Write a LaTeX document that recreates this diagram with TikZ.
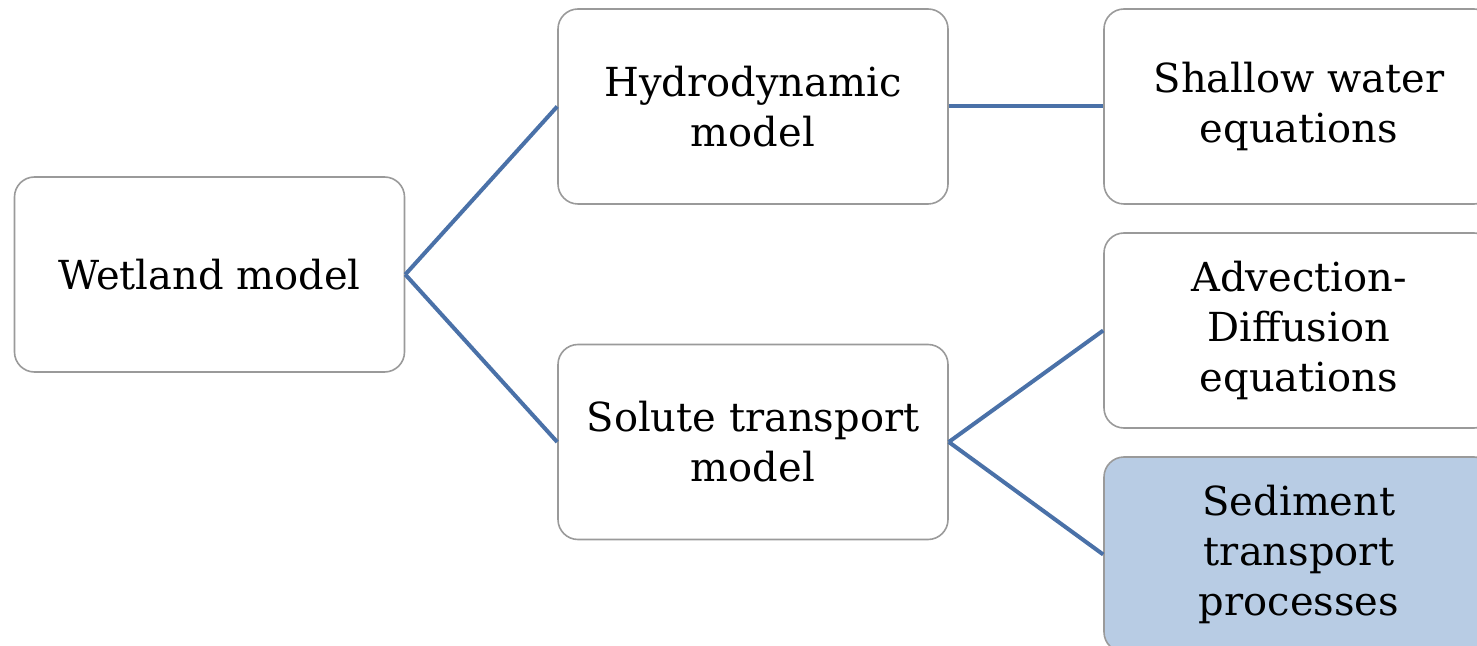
\documentclass[tikz,border=0pt]{standalone}
\usepackage{fontspec}
\setmainfont{DejaVu Serif}
\definecolor{linkblue}{HTML}{4A71A8}
\definecolor{boxgray}{HTML}{9A9A9A}
\definecolor{sedfill}{HTML}{B8CCE4}
\begin{document}
\begin{tikzpicture}[x=0.5pt, y=-0.5pt,
    box/.style={draw=boxgray, line width=0.8pt, rounded corners=10pt, fill=white,
        minimum width=195pt, minimum height=97.5pt, align=center,
        font=\fontsize{20}{25}\selectfont, inner sep=0pt},
    link/.style={linkblue, line width=2pt}]
    \useasboundingbox (0,0) rectangle (1477,646);
    \clip (0,0) rectangle (1477,646);
    \node[box] (wetland) at (209.5,274.5) {Wetland model};
    \node[box] (hydro) at (753,106.5) {Hydrodynamic\\model};
    \node[box] (solute) at (753,442) {Solute transport\\model};
    \node[box] (shallow) at (1299,106.5) {Shallow water\\equations};
    \node[box] (advdiff) at (1299,330.5) {Advection-\\Diffusion\\equations};
    \node[box, fill=sedfill] (sediment) at (1299,554.5) {Sediment\\transport\\processes};

    \draw[link] (wetland.east) -- (hydro.west);
    \draw[link] (wetland.east) -- (solute.west);
    \draw[link] (hydro.east) -- (shallow.west);
    \draw[link] (solute.east) -- (advdiff.west);
    \draw[link] (solute.east) -- (sediment.west);
\end{tikzpicture}
\end{document}
